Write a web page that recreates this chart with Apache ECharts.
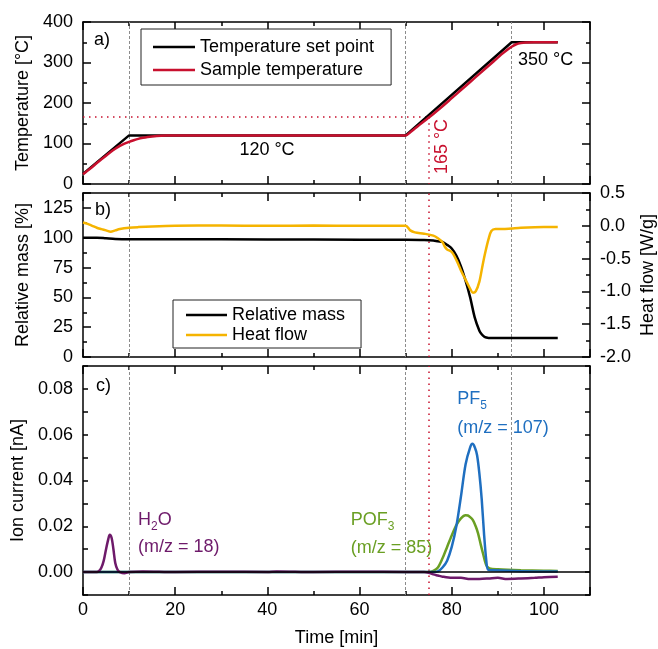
<!DOCTYPE html>
<html>
<head>
<meta charset="utf-8">
<title>TGA / DSC / MS</title>
<script src="https://cdn.jsdelivr.net/npm/echarts@6/dist/echarts.min.js"></script>
<style>
    html, body { margin: 0; padding: 0; background: #fff; }
    #chart { width: 658px; height: 649px; }
</style>
</head>
<body>
<div id="chart"></div>
<script>
// ---- data: [time (min), value] ----
var setPoint = [[0, 25], [10, 120], [70, 120], [93, 350], [103, 350]];
var sampleTemp = [[0, 24], [1, 33], [2, 42], [3, 52], [4, 61], [5, 70], [6, 79], [7, 87], [8, 94], [9, 99.5],
    [10, 104], [11, 108], [12, 111.5], [13, 114], [14, 116], [15, 117.5], [16, 118.5], [18, 119.5], [20, 120],
    [70, 120], [71, 128], [72, 137], [73, 146], [74, 155], [75, 164], [76, 173], [78, 192], [80, 212], [82, 232],
    [84, 252], [86, 272], [88, 292], [90, 312], [91, 322], [92, 331], [93, 339], [94, 345], [95, 348],
    [96, 349.5], [98, 350], [103, 350]];

var relMass = [[0, 100], [3, 100], [5, 99.5], [7, 99], [10, 98.8], [20, 98.8], [40, 98.6], [60, 98.3], [70, 98.2],
    [74, 98], [76, 97.6], [77, 97], [78, 96.5], [79, 94], [80, 91], [81, 85], [82, 76], [83, 64], [84, 50],
    [85, 33], [86, 22], [86.5, 19], [87, 17.2], [87.5, 16.3], [88, 16], [90, 16], [103, 16]];
var heatFlow = [[0, 0.05], [1, 0.03], [2, 0.0], [3, -0.03], [4, -0.05], [5, -0.07], [6, -0.09], [7, -0.07],
    [8, -0.05], [10, -0.03], [12, -0.02], [15, -0.01], [20, 0], [30, 0.005], [40, 0], [50, 0.005], [60, 0],
    [70, 0], [71, -0.07], [72, -0.1], [74, -0.12], [76, -0.15], [77, -0.19], [78, -0.25], [78.5, -0.32],
    [79, -0.36], [80, -0.4], [81, -0.52], [82, -0.68], [83, -0.82], [84, -0.96], [84.6, -1.02], [85.2, -1.0],
    [86, -0.85], [86.7, -0.6], [87.3, -0.4], [88, -0.2], [88.6, -0.08], [89.5, -0.05], [91, -0.05],
    [93, -0.04], [95, -0.03], [100, -0.02], [103, -0.02]];

var h2o = [[0, 0], [3, 0], [3.5, 0.0005], [4, 0.002], [4.5, 0.005], [5, 0.01], [5.5, 0.0145], [5.8, 0.0163],
    [6.2, 0.015], [6.6, 0.01], [7, 0.004], [7.5, 0.001], [8, 0], [9, -0.0005], [10, 0], [13, 0.0003], [20, 0],
    [30, 0.0002], [40, 0], [42, 0.0003], [50, 0], [60, 0.0002], [70, 0], [74, 0], [75, -0.0003], [76, -0.001],
    [77, -0.0015], [78, -0.002], [80, -0.0025], [82, -0.0025], [84, -0.003], [86, -0.003], [88, -0.0028],
    [90, -0.0025], [92, -0.003], [95, -0.0028], [98, -0.0025], [100, -0.0022], [103, -0.002]];
var pof3 = [[0, 0], [75, 0], [76, 0.0005], [77, 0.002], [78, 0.006], [79, 0.011], [80, 0.016], [81, 0.0205],
    [82, 0.0235], [83, 0.0248], [83.5, 0.0247], [84, 0.024], [84.6, 0.0227], [85.2, 0.02], [85.7, 0.017],
    [86.3, 0.012], [86.8, 0.008], [87.5, 0.003], [88.2, 0.0016], [90, 0.0012], [95, 0.0008], [100, 0.0006],
    [103, 0.0005]];
var pf5 = [[0, 0], [76, 0], [77, 0.0003], [78, 0.002], [79, 0.005], [80, 0.011], [81, 0.02], [82, 0.033],
    [83, 0.047], [84, 0.0545], [84.5, 0.056], [85, 0.0545], [85.5, 0.051], [86, 0.043], [86.5, 0.032],
    [87, 0.017], [87.5, 0.005], [87.9, 0.001], [89, 0.0008], [95, 0.0004], [103, 0.0003]];

var stepTimes = [10, 70, 93];   // gray dashed guides
var onsetTime = 75;             // red dotted guide
var onsetTemp = 165;

var FONT = 'Liberation Sans, Arial, Helvetica, sans-serif';
var BLACK = {color: '#000', width: 1.5};
var RED = '#c8102e';

function xAx(gi, pos, withLabels) {
    return {
        type: 'value', gridIndex: gi, position: pos,
        min: 0, max: 110, interval: 20,
        axisLine: {show: true, onZero: false, lineStyle: BLACK},
        axisTick: {show: true, inside: true, length: 8, lineStyle: BLACK},
        minorTick: {show: true, splitNumber: 2, length: 4, lineStyle: BLACK},
        splitLine: {show: false},
        axisLabel: {show: withLabels, showMaxLabel: false, color: '#000', fontSize: 18, fontFamily: FONT, margin: 6},
        name: withLabels ? 'Time [min]' : '',
        nameLocation: 'middle', nameGap: 34,
        nameTextStyle: {color: '#000', fontSize: 18, fontFamily: FONT}
    };
}

function yAx(gi, pos, min, max, interval, o) {
    o = o || {};
    var ax = {
        type: 'value', gridIndex: gi, position: pos,
        min: min, max: max, interval: interval,
        axisLine: {show: true, onZero: false, lineStyle: BLACK},
        axisTick: {show: true, inside: true, length: o.tick || 8, lineStyle: BLACK},
        minorTick: {show: o.minor !== false, splitNumber: 2, length: 4, lineStyle: BLACK},
        splitLine: {show: false},
        axisLabel: {
            show: !!o.labels, showMaxLabel: o.maxLabel !== false, color: '#000',
            fontSize: 18, fontFamily: FONT, margin: 10, formatter: o.fmt
        },
        name: o.name || '', nameLocation: 'middle', nameGap: o.gap || 50,
        nameTextStyle: {color: '#000', fontSize: 18, fontFamily: FONT}
    };
    if (o.gap) ax.nameMoveOverlap = false;
    return ax;
}

function guides(extra) {
    var d = stepTimes.map(function (t) {
        return {xAxis: t, lineStyle: {color: '#8c8c8c', type: [3, 2], width: 1}};
    });
    return {
        silent: true, symbol: 'none', animation: false, z: 1,
        label: {show: false},
        data: d.concat(extra)
    };
}

var redStyle = {color: RED, type: [1.5, 4.5], width: 1.5};
var guidesA = guides([
    [{coord: [0, onsetTemp], lineStyle: redStyle}, {coord: [onsetTime, onsetTemp], lineStyle: redStyle}],
    [{coord: [onsetTime, onsetTemp], lineStyle: redStyle}, {coord: [onsetTime, 0], lineStyle: redStyle}]
]);
var guidesBC = guides([{xAxis: onsetTime, lineStyle: redStyle}]);

function line(name, data, color, xi, yi, extra) {
    var s = {
        name: name, type: 'line', data: data, xAxisIndex: xi, yAxisIndex: yi,
        showSymbol: false, symbol: 'none', smooth: 0.3, animation: false,
        lineStyle: {color: color, width: 2.5}, itemStyle: {color: color}
    };
    for (var k in extra) s[k] = extra[k];
    return s;
}

function txt(x, y, text, color, size, align) {
    return {
        type: 'text', x: x, y: y, z: 100,
        style: {
            text: text, fill: color || '#000', fontSize: size || 18, fontFamily: FONT,
            align: align || 'left', verticalAlign: 'middle'
        }
    };
}

var PURPLE = '#6e1a6a', GREEN = '#6a9f23', BLUE = '#1f6fc0', GOLD = '#f5b400';

var chart = echarts.init(document.getElementById('chart'));
var option = {
    backgroundColor: '#fff',
    animation: false,
    grid: [
        {left: 83, width: 507, top: 22, height: 162, outerBoundsMode: 'none'},
        {left: 83, width: 507, top: 193, height: 164, outerBoundsMode: 'none'},
        {left: 83, width: 507, top: 366, height: 229, outerBoundsMode: 'none'}
    ],
    xAxis: [xAx(0, 'bottom', false), xAx(0, 'top', false),
        xAx(1, 'bottom', false), xAx(1, 'top', false),
        xAx(2, 'bottom', true), xAx(2, 'top', false)],
    yAxis: [
        yAx(0, 'left', 0, 400, 100, {labels: true, name: 'Temperature [°C]'}),
        yAx(0, 'right', 0, 400, 100),
        yAx(1, 'left', 0, 137.5, 25, {labels: true, maxLabel: false, name: 'Relative mass [%]'}),
        yAx(1, 'right', -2, 0.5, 0.5, {
            labels: true, name: 'Heat flow [W/g]', gap: 49,
            fmt: function (v) { return v.toFixed(1); }
        }),
        yAx(2, 'left', -0.01, 0.09, 0.01, {
            labels: true, minor: false, tick: 5, name: 'Ion current [nA]',
            fmt: function (v) {
                var n = Math.round(v * 100);
                return (n >= 0 && n % 2 === 0 && n <= 8) ? v.toFixed(2) : '';
            }
        }),
        yAx(2, 'right', -0.01, 0.09, 0.01, {minor: false, tick: 5})
    ],
    legend: [
        {
            data: ['Temperature set point', 'Sample temperature'],
            left: 141, top: 29, orient: 'vertical', itemGap: 5,
            icon: 'rect', itemWidth: 42, itemHeight: 2.5,
            padding: [9, 17, 6, 12], borderColor: '#222', borderWidth: 1, backgroundColor: '#fff',
            textStyle: {color: '#000', fontSize: 18, fontFamily: FONT}, selectedMode: false
        },
        {
            data: ['Relative mass', 'Heat flow'],
            left: 173, top: 300, orient: 'vertical', itemGap: 2,
            icon: 'rect', itemWidth: 41, itemHeight: 2.5,
            padding: [6, 16, 4, 13], borderColor: '#222', borderWidth: 1, backgroundColor: '#fff',
            textStyle: {color: '#000', fontSize: 18, fontFamily: FONT}, selectedMode: false
        }
    ],
    series: [
        line('Sample temperature', sampleTemp, RED, 0, 0, {markLine: guidesA}),
        line('Temperature set point', setPoint, '#000', 0, 0, {smooth: false, z: 1}),
        line('Relative mass', relMass, '#000', 2, 2, {markLine: guidesBC}),
        line('Heat flow', heatFlow, GOLD, 2, 3),
        line('POF3', pof3, GREEN, 4, 4, {markLine: guidesBC}),
        line('PF5', pf5, BLUE, 4, 4),
        line('H2O', h2o, PURPLE, 4, 4, {
            markLine: {
                silent: true, symbol: 'none', animation: false, label: {show: false},
                data: [{yAxis: 0, lineStyle: {color: '#000', type: 'solid', width: 1.5}}]
            }
        })
    ],
    graphic: [
        txt(94, 40, 'a)'),
        txt(95, 210, 'b)'),
        txt(96, 386, 'c)'),
        txt(267, 150, '120 °C', '#000', 18, 'center'),
        txt(518, 60, '350 °C'),
        {
            type: 'text', x: 442, y: 146.5, rotation: Math.PI / 2, z: 100,
            style: {text: '165 °C', fill: RED, fontSize: 18, fontFamily: FONT, align: 'center', verticalAlign: 'middle'}
        },
        txt(138, 520, 'H', PURPLE), txt(151, 527, '2', PURPLE, 12), txt(157.7, 520, 'O', PURPLE),
        txt(138, 547, '(m/z = 18)', PURPLE),
        txt(350.7, 520, 'POF', GREEN), txt(387.7, 527, '3', GREEN, 12),
        txt(350.7, 548, '(m/z = 85)', GREEN),
        txt(457.3, 399, 'PF', BLUE), txt(480.3, 406, '5', BLUE, 12),
        txt(457.3, 428, '(m/z = 107)', BLUE)
    ]
};
chart.setOption(option);
</script>
</body>
</html>
